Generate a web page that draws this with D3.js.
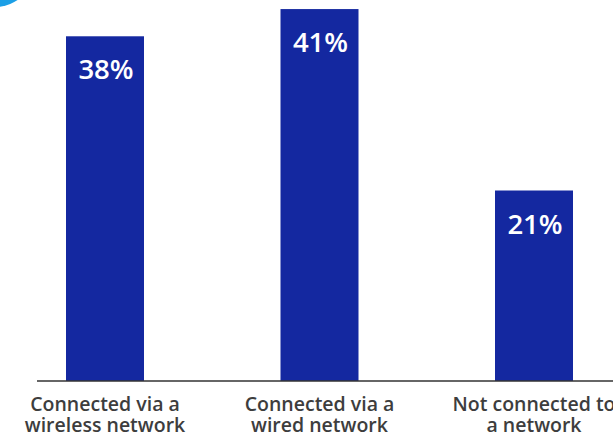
<!DOCTYPE html>
<html>
<head>
<meta charset="utf-8">
<script src="https://cdn.jsdelivr.net/npm/d3@7"></script>
<style>
  body { margin: 0; background: #fff; }
  svg { display: block; font-family: "Open Sans", "Noto Sans", sans-serif; }
</style>
</head>
<body>
<script>
var categories = ["wireless", "wired", "none"];
var values = [38, 41, 21];
var labelLines = [
  ["Connected via a", "wireless network"],
  ["Connected via a", "wired network"],
  ["Not connected to", "a network"]
];

var width = 613, height = 435;
var baseline = 381;
var barWidth = 78;

var svg = d3.select("body").append("svg")
            .attr("width", width)
            .attr("height", height);

// decorative circle peeking in at the top-left corner
svg.append("circle")
   .attr("cx", -8).attr("cy", -40).attr("r", 47.5)
   .attr("fill", "#1b9fe6");

var x = d3.scalePoint()
          .domain(categories)
          .range([105, 534]);

var y = d3.scaleLinear()
          .domain([0, 42])
          .range([baseline, 0]);

svg.selectAll("rect.bar")
   .data(values)
   .enter().append("rect")
   .attr("class", "bar")
   .attr("x", function(d, i){ return x(categories[i]) - barWidth / 2; })
   .attr("y", function(d){ return y(d); })
   .attr("width", barWidth)
   .attr("height", function(d){ return y(0) - y(d); })
   .attr("fill", "#1428a0");

svg.selectAll("text.val")
   .data(values)
   .enter().append("text")
   .attr("class", "val")
   .attr("x", function(d, i){ return x(categories[i]) + 1; })
   .attr("y", function(d){ return y(d) + 43; })
   .attr("text-anchor", "middle")
   .attr("fill", "#fff")
   .style("font-size", "27.5px")
   .style("font-weight", 600)
   .text(function(d){ return d + "%"; });

// baseline axis
svg.append("line")
   .attr("x1", 37).attr("x2", width)
   .attr("y1", baseline).attr("y2", baseline)
   .attr("stroke", "#333")
   .attr("stroke-width", 1.5);

var lbl = svg.selectAll("text.cat")
   .data(labelLines)
   .enter().append("text")
   .attr("class", "cat")
   .attr("text-anchor", "middle")
   .attr("fill", "#3d3d3d")
   .style("font-size", "19.5px")
   .style("font-weight", 600);

lbl.selectAll("tspan")
   .data(function(d, i){ return d.map(function(t){ return {t: t, c: categories[i]}; }); })
   .enter().append("tspan")
   .attr("x", function(d){ return x(d.c); })
   .attr("y", function(d, j){ return 411 + j * 21; })
   .text(function(d){ return d.t; });
</script>
</body>
</html>
